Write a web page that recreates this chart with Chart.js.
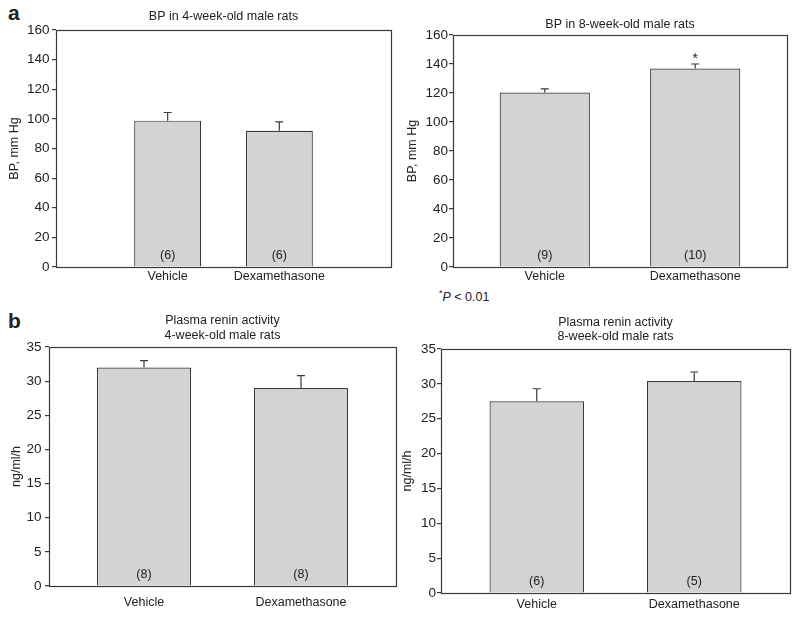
<!DOCTYPE html>
<html>
<head>
<meta charset="utf-8">
<script src="https://cdn.jsdelivr.net/npm/chart.js@4.4.1/dist/chart.umd.min.js"></script>
<style>
    body { margin: 0; background: #fff; font-family: "Liberation Sans", Arial, sans-serif; color: #222; }
    .panel { position: absolute; }
    .letter { position: absolute; font-weight: bold; font-size: 21px; line-height: 21px; }
    .note { position: absolute; font-size: 12.5px; line-height: 15px; }
    .note sup { font-size: 9px; }
</style>
</head>
<body>
<div class="letter" style="left:8px;top:2px">a</div>
<div class="letter" style="left:8px;top:310px">b</div>
<div class="note" style="left:439px;top:286px"><sup>*</sup><i>P</i> &lt; 0.01</div>

<div class="panel" style="left:0;top:0"><canvas id="bp4" width="400" height="290"></canvas></div>
<div class="panel" style="left:400px;top:0"><canvas id="bp8" width="400" height="290"></canvas></div>
<div class="panel" style="left:0;top:300px"><canvas id="pra4" width="400" height="319"></canvas></div>
<div class="panel" style="left:400px;top:300px"><canvas id="pra8" width="400" height="319"></canvas></div>

<script>
// Du lieu
const categories = ['Vehicle', 'Dexamethasone'];

const bp4Means = [98.8, 92.0];
const bp4Errors = [5.5, 5.9];
const bp4Counts = ['(6)', '(6)'];

const bp8Means = [120.3, 136.8];
const bp8Errors = [2.6, 3.2];
const bp8Counts = ['(9)', '(10)'];
const bp8Marks = ['', '*'];

const pra4Means = [32.0, 29.0];
const pra4Errors = [1.0, 1.8];
const pra4Counts = ['(8)', '(8)'];

const pra8Means = [27.5, 30.4];
const pra8Errors = [1.8, 1.3];
const pra8Counts = ['(6)', '(5)'];

const FONT = '"Liberation Sans", Arial, sans-serif';
const LINE = '#3a3a3a';
const TEXT = '#222';

// Plugin ve error bar, so mau va khung
function extrasPlugin(errors, counts, marks) {
    return {
        id: 'extras',
        afterDatasetsDraw(chart) {
            const ctx = chart.ctx;
            const yScale = chart.scales.y;
            const meta = chart.getDatasetMeta(0);
            const base = yScale.getPixelForValue(0);
            ctx.save();
            ctx.strokeStyle = LINE;
            ctx.lineWidth = 1.2;
            meta.data.forEach((bar, i) => {
                const value = chart.data.datasets[0].data[i].y;
                const top = yScale.getPixelForValue(value + errors[i]);
                ctx.beginPath();
                ctx.moveTo(bar.x, bar.y);
                ctx.lineTo(bar.x, top);
                ctx.moveTo(bar.x - 4, top);
                ctx.lineTo(bar.x + 4, top);
                ctx.stroke();

                ctx.fillStyle = TEXT;
                ctx.font = '12.5px ' + FONT;
                ctx.textAlign = 'center';
                ctx.textBaseline = 'middle';
                ctx.fillText(counts[i], bar.x, base - 11);

                if (marks && marks[i]) {
                    ctx.font = '14px ' + FONT;
                    ctx.textBaseline = 'alphabetic';
                    ctx.fillText(marks[i], bar.x, top - 0.5);
                }
            });
            ctx.restore();
        },
        afterDraw(chart) {
            const a = chart.chartArea;
            const ctx = chart.ctx;
            ctx.save();
            ctx.strokeStyle = LINE;
            ctx.lineWidth = 1.2;
            ctx.strokeRect(Math.round(a.left) + 0.5, Math.round(a.top) + 0.5,
                Math.round(a.right - a.left), Math.round(a.bottom - a.top));
            ctx.restore();
        }
    };
}

function makePanel(id, p) {
    const data = {
        datasets: [{
            data: categories.map((c, i) => ({ x: i + 1, y: p.means[i] })),
            backgroundColor: '#d3d3d3',
            borderColor: LINE,
            borderWidth: 1.2,
            barPercentage: 0.6,
            categoryPercentage: 1
        }]
    };

    return new Chart(document.getElementById(id), {
        type: 'bar',
        data: data,
        plugins: [extrasPlugin(p.errors, p.counts, p.marks)],
        options: {
            responsive: false,
            animation: false,
            devicePixelRatio: 1,
            layout: { padding: { top: 0, left: 0, bottom: 0, right: p.padRight } },
            plugins: {
                legend: { display: false },
                tooltip: { enabled: false },
                title: {
                    display: true,
                    text: p.title,
                    fullSize: false,
                    color: TEXT,
                    font: { family: FONT, size: 12.5, weight: 'normal', lineHeight: 1.15 },
                    padding: { top: p.titleTop, bottom: p.titleBottom }
                }
            },
            scales: {
                x: {
                    type: 'linear',
                    offset: false,
                    min: 1.5 - p.half,
                    max: 1.5 + p.half,
                    grid: { display: false, drawTicks: false, offset: false },
                    border: { display: false },
                    afterBuildTicks: (scale) => {
                        scale.ticks = categories.map((c, i) => ({ value: i + 1 }));
                    },
                    afterFit: (scale) => { scale.height = p.xHeight; },
                    ticks: {
                        autoSkip: false,
                        maxRotation: 0,
                        padding: p.xPad,
                        color: TEXT,
                        font: { family: FONT, size: 12.5 },
                        callback: (v) => categories[v - 1] || ''
                    }
                },
                y: {
                    min: 0,
                    max: p.max,
                    grid: { drawOnChartArea: false, drawTicks: true, tickLength: 4, color: LINE, lineWidth: 1.2 },
                    border: { display: false },
                    afterFit: (scale) => { scale.width = p.yWidth; },
                    ticks: {
                        stepSize: p.step,
                        padding: p.yPad,
                        color: TEXT,
                        font: { family: FONT, size: 13.5 }
                    },
                    title: {
                        display: true,
                        text: p.yTitle,
                        color: TEXT,
                        font: { family: FONT, size: 12.5 },
                        padding: { top: p.yTitlePad, bottom: 0 }
                    }
                }
            }
        }
    });
}

makePanel('bp4', {
    means: bp4Means, errors: bp4Errors, counts: bp4Counts,
    title: 'BP in 4-week-old male rats', yTitle: 'BP, mm Hg', max: 160, step: 20,
    half: 1.5, padRight: 9, yWidth: 56, xHeight: 23, xPad: 2.5,
    titleTop: 9.8, titleBottom: 5.8, yPad: 2.5, yTitlePad: 7.5
});

makePanel('bp8', {
    means: bp8Means, errors: bp8Errors, counts: bp8Counts, marks: bp8Marks,
    title: 'BP in 8-week-old male rats', yTitle: 'BP, mm Hg', max: 160, step: 20,
    half: 1.11, padRight: 13, yWidth: 53, xHeight: 23, xPad: 2.5,
    titleTop: 17, titleBottom: 3.6, yPad: 1, yTitlePad: 5.5
});

makePanel('pra4', {
    means: pra4Means, errors: pra4Errors, counts: pra4Counts,
    title: ['Plasma renin activity', '4-week-old male rats'], yTitle: 'ng/ml/h', max: 35, step: 5,
    half: 1.105, padRight: 4, yWidth: 49, xHeight: 33, xPad: 9.5,
    titleTop: 13.5, titleBottom: 4.75, yPad: 3.5, yTitlePad: 9.5
});

makePanel('pra8', {
    means: pra8Means, errors: pra8Errors, counts: pra8Counts,
    title: ['Plasma renin activity', '8-week-old male rats'], yTitle: 'ng/ml/h', max: 35, step: 5,
    half: 1.108, padRight: 10, yWidth: 41, xHeight: 26, xPad: 4.5,
    titleTop: 15.1, titleBottom: 5.15, yPad: 1, yTitlePad: 0
});
</script>
</body>
</html>
